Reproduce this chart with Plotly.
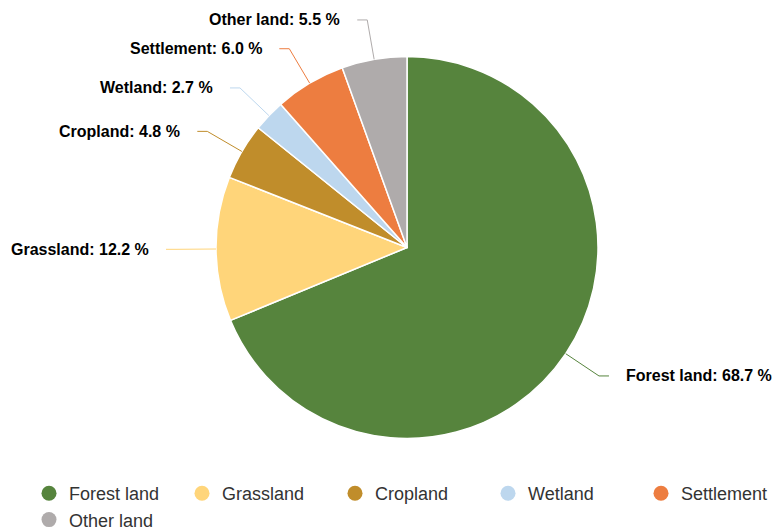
import math
import plotly.graph_objects as go

# Land-use shares (%)
categories = ["Forest land", "Grassland", "Cropland", "Wetland", "Settlement", "Other land"]
shares = [68.7, 12.2, 4.8, 2.7, 6.0, 5.5]
colors = ["#56843d", "#ffd57a", "#c08d2b", "#bdd7ee", "#ed7d40", "#afabab"]

W, H = 774, 531
CX, CY, R = 407, 247.5, 191          # pie centre and radius in pixels
LABEL_GAP = 40                       # radial distance of label anchor from the rim
HOOK = 10                            # horizontal connector segment
TEXT_PAD = 15                        # gap between connector and label text
FONT = "Liberation Sans, Arial, sans-serif"


def px(x):
    return x / W


def py(y):
    return 1 - y / H


fig = go.Figure()

fig.add_trace(go.Pie(
    labels=categories,
    values=shares,
    marker=dict(colors=colors, line=dict(color="#ffffff", width=1.5)),
    sort=False,
    direction="clockwise",
    rotation=0,
    textinfo="none",
    hoverinfo="label+percent",
    showlegend=False,
    domain=dict(x=[px(CX - R), px(CX + R)], y=[py(CY + R), py(CY - R)]),
))

# Outside labels with bent connectors, positioned from each slice's mid-angle
total = sum(shares)
shapes, annotations = [], []
cum = 0.0
for name, val, col in zip(categories, shares, colors):
    mid = (cum + val / 2) / total * 2 * math.pi
    cum += val
    s, c = math.sin(mid), math.cos(mid)
    x0, y0 = CX + R * s, CY - R * c
    x1, y1 = CX + (R + LABEL_GAP) * s, CY - (R + LABEL_GAP) * c
    right = s >= 0
    x2 = x1 + HOOK if right else x1 - HOOK
    shapes.append(dict(
        type="path", xref="paper", yref="paper",
        path=f"M {px(x0)} {py(y0)} L {px(x1)} {py(y1)} L {px(x2)} {py(y1)}",
        line=dict(color=col, width=1),
    ))
    annotations.append(dict(
        xref="paper", yref="paper",
        x=px(x2 + (TEXT_PAD if right else -TEXT_PAD)), y=py(y1),
        xanchor="left" if right else "right", yanchor="middle",
        text=f"<b>{name}: {val:.1f} %</b>",
        showarrow=False,
        font=dict(family=FONT, size=16, color="#000000"),
    ))

# Legend entries with round markers
for name, col in zip(categories, colors):
    fig.add_trace(go.Scatter(
        x=[None], y=[None], mode="markers", name=name,
        marker=dict(symbol="circle", size=15, color=col),
        showlegend=True,
    ))

fig.update_layout(
    width=W, height=H,
    margin=dict(l=0, r=0, t=0, b=0, autoexpand=False),
    paper_bgcolor="#ffffff",
    plot_bgcolor="#ffffff",
    xaxis=dict(visible=False),
    yaxis=dict(visible=False),
    shapes=shapes,
    annotations=annotations,
    legend=dict(
        orientation="h",
        x=px(29), y=py(475), xanchor="left", yanchor="top",
        entrywidth=108, entrywidthmode="pixels",
        itemwidth=30,
        font=dict(family=FONT, size=18, color="#333333"),
        bgcolor="rgba(0,0,0,0)",
    ),
)

fig.write_html("out.html")
